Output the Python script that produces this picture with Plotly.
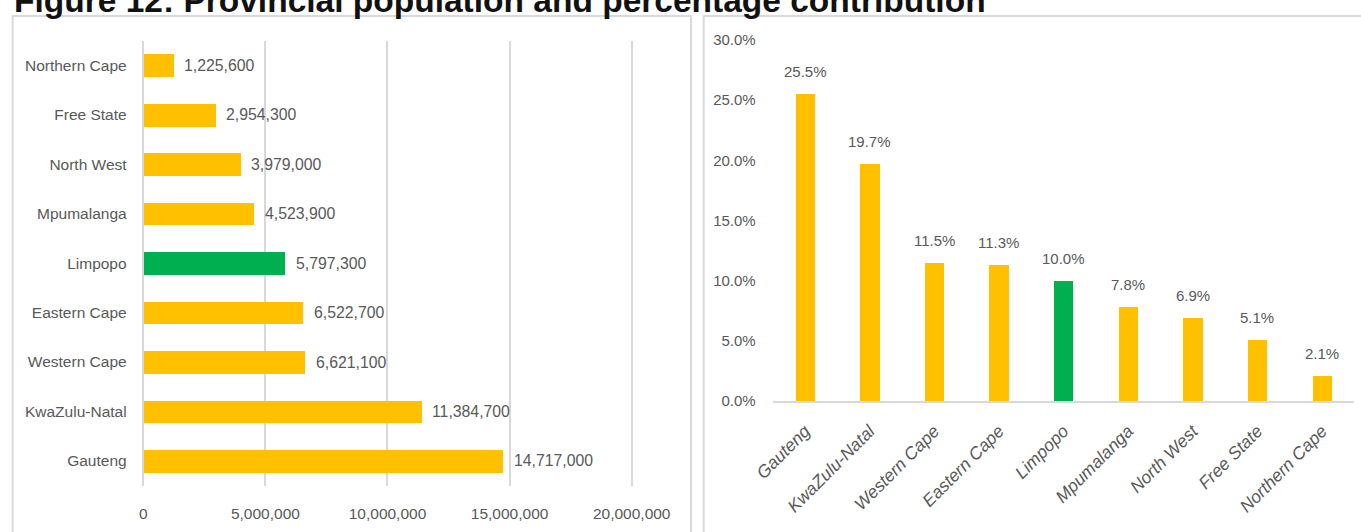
import plotly.graph_objects as go

W, H = 1361, 532

# Provinces, ordered from the largest population to the smallest
provinces = ["Gauteng", "KwaZulu-Natal", "Western Cape", "Eastern Cape", "Limpopo",
             "Mpumalanga", "North West", "Free State", "Northern Cape"]
population = [14717000, 11384700, 6621100, 6522700, 5797300,
              4523900, 3979000, 2954300, 1225600]
share_pct = [25.5, 19.7, 11.5, 11.3, 10.0, 7.8, 6.9, 5.1, 2.1]

pop_ticks = [0, 5000000, 10000000, 15000000, 20000000]
pct_ticks = [0, 5, 10, 15, 20, 25, 30]
pct_tick_text = ["0.0%", "5.0%", "10.0%", "15.0%", "20.0%", "25.0%", "30.0%"]

highlight = "Limpopo"
YELLOW = "#FFC000"
GREEN = "#00B050"
GREY_TXT = "#595959"
GRID = "#d9d9d9"
FONT = "Liberation Sans, Arial, sans-serif"

colors = [GREEN if p == highlight else YELLOW for p in provinces]


def px_x(px):
    return px / W


def px_y(py):
    return 1 - py / H


# Population axis: 0 sits at x=143.3 px, 20M at x=631.7 px; pad the range a
# little so the gridlines at both ends are kept.
POP_PAD = 150000
px_per_unit = (631.7 - 143.3) / 20000000
pop_left = 143.3 - POP_PAD * px_per_unit
pop_right = 631.7 + POP_PAD * px_per_unit

fig = go.Figure()

# Left panel: horizontal population bars
fig.add_trace(go.Bar(
    x=population, y=provinces, orientation="h",
    marker=dict(color=colors, line=dict(width=0)),
    width=0.46, xaxis="x", yaxis="y", hoverinfo="x+y",
))

# Right panel: percentage contribution columns
fig.add_trace(go.Bar(
    x=provinces, y=share_pct,
    marker=dict(color=colors, line=dict(width=0)),
    width=0.30, xaxis="x2", yaxis="y2", hoverinfo="x+y",
))

annotations = []
for p, v in zip(provinces, population):
    annotations.append(dict(
        x=v, y=p, xref="x", yref="y", text=f"{v:,}", showarrow=False,
        xanchor="left", yanchor="middle", xshift=9,
        font=dict(family=FONT, size=15.8, color=GREY_TXT),
    ))
for p, v in zip(provinces, share_pct):
    annotations.append(dict(
        x=p, y=v, xref="x2", yref="y2", text=f"{v:.1f}%", showarrow=False,
        xanchor="center", yanchor="bottom", yshift=12,
        font=dict(family=FONT, size=15, color=GREY_TXT),
    ))

# Figure heading
annotations.append(dict(
    x=px_x(12), y=px_y(0), xref="paper", yref="paper",
    text="<b>Figure 12: Provincial population and percentage contribution</b>",
    showarrow=False, xanchor="left", yanchor="middle",
    font=dict(family="Liberation Sans, Arial, sans-serif", size=33.5, color="#111111"),
))

shapes = [
    dict(type="rect", xref="paper", yref="paper",
         x0=px_x(12.7), x1=px_x(691), y0=-0.2, y1=px_y(16),
         line=dict(color=GRID, width=2), fillcolor="rgba(0,0,0,0)", layer="below"),
    dict(type="rect", xref="paper", yref="paper",
         x0=px_x(703.7), x1=1.2, y0=-0.2, y1=px_y(16),
         line=dict(color=GRID, width=2), fillcolor="rgba(0,0,0,0)", layer="below"),
]

fig.update_layout(
    template="none",
    width=W, height=H,
    margin=dict(l=0, r=0, t=0, b=0, autoexpand=False),
    paper_bgcolor="white", plot_bgcolor="white",
    showlegend=False, bargap=0,
    annotations=annotations, shapes=shapes,
    xaxis=dict(
        domain=[px_x(pop_left), px_x(pop_right)],
        range=[-POP_PAD, 20000000 + POP_PAD],
        tickvals=pop_ticks, tickformat=",d",
        showgrid=True, gridcolor=GRID, gridwidth=1.5,
        zeroline=False, showline=False, ticks="",
        tickfont=dict(family=FONT, size=15.5, color=GREY_TXT),
        ticklabelstandoff=17, anchor="y", fixedrange=True, automargin=False,
    ),
    yaxis=dict(
        domain=[px_y(485.7), px_y(40.6)],
        categoryorder="array", categoryarray=provinces,
        showgrid=False, zeroline=False, showline=False, ticks="",
        tickfont=dict(family=FONT, size=15.5, color=GREY_TXT),
        ticklabelstandoff=12, anchor="x", fixedrange=True, automargin=False,
    ),
    xaxis2=dict(
        domain=[px_x(772.7), px_x(1354.3)],
        categoryorder="array", categoryarray=provinces,
        showgrid=False, zeroline=False,
        showline=True, linecolor=GRID, linewidth=2, ticks="",
        tickangle=-45, ticklabelstandoff=11,
        tickfont=dict(family=FONT, size=17.5, color=GREY_TXT, style="italic"),
        anchor="y2", fixedrange=True, automargin=False,
    ),
    yaxis2=dict(
        domain=[px_y(401), px_y(40)], range=[0, 30],
        tickvals=pct_ticks, ticktext=pct_tick_text,
        showgrid=False, zeroline=False, showline=False, ticks="",
        tickfont=dict(family=FONT, size=15, color=GREY_TXT),
        ticklabelstandoff=16, anchor="x2", fixedrange=True, automargin=False,
    ),
)

fig.write_html("out.html")
